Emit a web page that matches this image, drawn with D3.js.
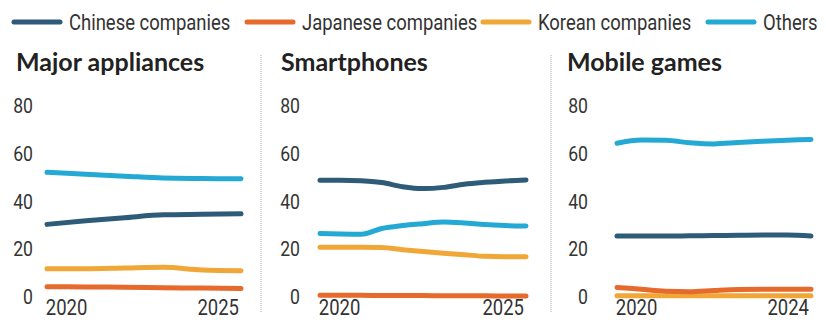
<!DOCTYPE html>
<html>
<head>
<meta charset="utf-8">
<script src="https://cdn.jsdelivr.net/npm/d3@7"></script>
<style>
  html, body { margin: 0; padding: 0; background: #fff; }
  svg { display: block; }
  .lbl { font-family: Roboto, "Liberation Sans", sans-serif; fill: #333; }
  .ttl { font-family: Lato, "Open Sans", sans-serif; font-weight: 700; fill: #222; }
</style>
</head>
<body>
<svg id="chart" width="826" height="323"></svg>
<script>
// Market share (%) by company nationality
const seriesNames = ["Chinese companies", "Japanese companies", "Korean companies", "Others"];
const seriesColors = ["#2e5b77", "#e66a2c", "#f1a737", "#23a9d3"];
const panelTitles = ["Major appliances", "Smartphones", "Mobile games"];
const yTicks = [0, 20, 40, 60, 80];

const applianceYears = [2020, 2021, 2022, 2023, 2024, 2025];
const applianceChinese  = [30.0, 31.5, 32.8, 34.0, 34.2, 34.4];
const applianceJapanese = [3.9, 3.8, 3.7, 3.5, 3.3, 3.1];
const applianceKorean   = [11.4, 11.4, 11.7, 12.0, 10.9, 10.6];
const applianceOthers   = [51.8, 51.0, 50.2, 49.4, 49.2, 49.1];

const phoneYears = [2020, 2020.5, 2021, 2021.5, 2022, 2022.5, 2023, 2023.5, 2024, 2024.5, 2025];
const phoneChinese  = [48.5, 48.5, 48.3, 47.5, 45.8, 45.0, 45.5, 46.8, 47.6, 48.2, 48.6];
const phoneJapanese = [0.3, 0.3, 0.3, 0.2, 0.2, 0.2, 0.1, 0.1, 0.1, 0.0, 0.0];
const phoneKorean   = [20.4, 20.4, 20.4, 20.3, 19.4, 18.6, 17.9, 17.3, 16.6, 16.4, 16.4];
const phoneOthers   = [26.2, 26.0, 25.9, 28.3, 29.5, 30.3, 31.0, 30.6, 29.9, 29.5, 29.3];

const gameYears = [2020, 2020.5, 2021, 2021.5, 2022, 2022.5, 2023, 2023.5, 2024];
const gameChinese  = [25.1, 25.1, 25.1, 25.2, 25.3, 25.4, 25.5, 25.5, 25.1];
const gameJapanese = [3.6, 2.8, 2.0, 1.8, 2.3, 2.7, 2.8, 2.8, 2.8];
const gameKorean   = [0.1, 0.1, 0.1, 0.1, 0.1, 0.1, 0.1, 0.1, 0.1];
const gameOthers   = [64.0, 65.3, 65.2, 64.2, 63.7, 64.3, 64.8, 65.2, 65.6];

const panels = [
  { title: panelTitles[0], years: applianceYears, xTicks: [2020, 2025],
    series: [applianceChinese, applianceJapanese, applianceKorean, applianceOthers],
    left: 16, tickRight: 33, x0: 47, x1: 241 },
  { title: panelTitles[1], years: phoneYears, xTicks: [2020, 2025],
    series: [phoneChinese, phoneJapanese, phoneKorean, phoneOthers],
    left: 281, tickRight: 300, x0: 320, x1: 526 },
  { title: panelTitles[2], years: gameYears, xTicks: [2020, 2024],
    series: [gameChinese, gameJapanese, gameKorean, gameOthers],
    left: 567, tickRight: 588, x0: 617, x1: 811 }
];

// Horizontal squeeze giving labels a condensed look
const NARROW = 0.84;
const squeeze = `scale(${NARROW},1)`;

const svg = d3.select("#chart");

// Legend
const legendX = [14, 247, 483, 708];
const legend = svg.append("g");
seriesNames.forEach((name, i) => {
  const g = legend.append("g").attr("transform", `translate(${legendX[i]},22)`);
  g.append("line").attr("x1", 0).attr("x2", 46).attr("y1", 0).attr("y2", 0)
    .attr("stroke", seriesColors[i]).attr("stroke-width", 5).attr("stroke-linecap", "round");
  g.append("text").attr("class", "lbl")
    .attr("transform", `translate(55,8) ${squeeze}`)
    .attr("font-size", 22).text(name);
});

// Dotted dividers between panels
[261, 551].forEach(x => {
  svg.append("line").attr("x1", x).attr("x2", x).attr("y1", 55).attr("y2", 313)
    .attr("stroke", "#aaa").attr("stroke-width", 1).attr("stroke-dasharray", "1,1");
});

const y = d3.scaleLinear().domain([0, 80]).range([296, 105]);

panels.forEach(p => {
  const g = svg.append("g");
  const x = d3.scaleLinear().domain(d3.extent(p.years)).range([p.x0, p.x1]);

  g.append("text").attr("class", "ttl").attr("x", p.left).attr("y", 71)
    .attr("font-size", 25).text(p.title);

  // y axis labels (no axis line or gridlines)
  const yAxis = d3.axisLeft(y).tickValues(yTicks).tickSize(0).tickPadding(0);
  const ya = g.append("g").attr("transform", `translate(${p.tickRight},0)`).call(yAxis);
  ya.select(".domain").remove();
  ya.selectAll("text").attr("class", "lbl").attr("font-size", 21)
    .attr("fill", "#333").attr("dy", "0.36em").attr("transform", squeeze);

  // x axis: first label starts at the line start, last label ends at the line end
  const xAxis = d3.axisBottom(x).tickValues(p.xTicks).tickFormat(d3.format("d"))
    .tickSize(0).tickPadding(0);
  const xa = g.append("g").attr("transform", "translate(0,315)").call(xAxis);
  xa.select(".domain").remove();
  xa.selectAll("text").attr("class", "lbl").attr("font-size", 22).attr("fill", "#333")
    .attr("dy", 0).attr("y", 0)
    .attr("text-anchor", (d, i) => i === 0 ? "start" : "end")
    .attr("x", (d, i) => i === 0 ? -2 : -3)
    .attr("transform", squeeze);

  const line = d3.line()
    .x((d, i) => x(p.years[i]))
    .y(d => y(d))
    .curve(d3.curveMonotoneX);

  // draw Korean and Japanese first, Others and Chinese on top
  [2, 1, 3, 0].forEach(si => {
    g.append("path").datum(p.series[si]).attr("d", line)
      .attr("fill", "none").attr("stroke", seriesColors[si])
      .attr("stroke-width", 5).attr("stroke-linecap", "round").attr("stroke-linejoin", "round");
  });
});
</script>
</body>
</html>
